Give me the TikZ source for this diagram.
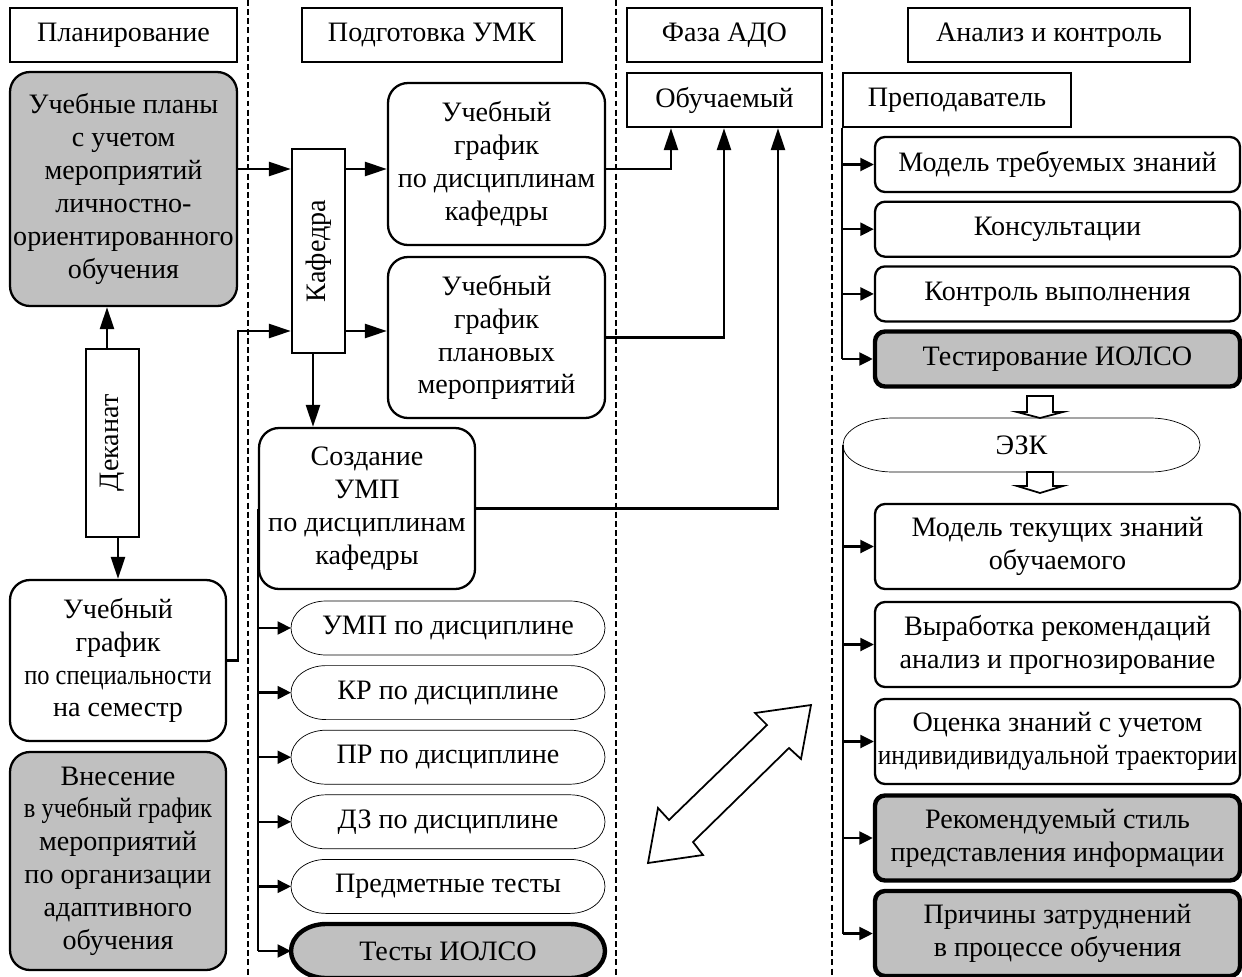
\documentclass[tikz,border=0pt]{standalone}
\usepackage{fontspec}
\setmainfont{Liberation Serif}
\usepackage{graphicx}
\usepackage{xcolor}
\definecolor{grisFill}{HTML}{C0C0C0}
\usetikzlibrary{arrows.meta,positioning,calc,backgrounds}
% outline with elliptic ends round a named node
\newcommand\pillline[3][]{%
 \draw[#1] ([xshift=#3]#2.north west) -- ([xshift=-#3]#2.north east)
 arc[start angle=90,end angle=-90,x radius=#3,y radius=0.54cm]
 -- ([xshift=#3]#2.south west)
 arc[start angle=270,end angle=90,x radius=#3,y radius=0.54cm] -- cycle;}

\begin{document}
\begin{tikzpicture}[
 font=\fontsize{16}{18.7}\selectfont,
 line width=1.3pt,
 hdr/.style={draw,minimum height=1.08cm,inner sep=0pt},
 rbox/.style={draw,rounded corners=0.4cm,align=center,inner sep=0pt,
 minimum width=4.32cm,minimum height=3.22cm},
 rrow/.style={draw,rounded corners=0.2cm,align=center,inner sep=0pt,minimum width=7.3cm},
 pill/.style={inner sep=0pt,outer sep=0pt,minimum width=6.28cm,minimum height=1.08cm},
 shaded/.style={fill=grisFill},
 bold/.style={line width=2.5pt},
 arr/.style={-{Triangle[length=0.44cm,width=0.28cm]}},
 arrs/.style={-{Triangle[length=0.27cm,width=0.26cm]}},
 divider/.style={line width=1pt,dash pattern=on 3.4pt off 1.8pt}]
 \useasboundingbox (0,0) rectangle (24.84,-19.54);

 % headers
 \node[hdr,minimum width=4.54cm] (hplan) at (2.47,-0.70) {Планирование};
 \node[hdr,minimum width=5.2cm] (humk) at (8.64,-0.70) {Подготовка УМК};
 \node[hdr,minimum width=3.9cm] (hado) at (14.49,-0.70) {Фаза АДО};
 \node[hdr,minimum width=5.64cm] (hanal) at (20.98,-0.70) {Анализ и контроль};
 \foreach \x in {4.96,12.32,16.64}
 \draw[divider] (\x,0) -- (\x,-19.54);

 % planning
 \node[rbox,shaded,minimum width=4.54cm,minimum height=4.68cm] (plans) at (2.47,-3.78)
 {Учебные планы\\с учетом\\мероприятий\\личностно-\\ориентированного\\обучения};
 \node[draw,inner sep=0pt,minimum width=1.06cm,minimum height=3.76cm] (dekanat) at (2.25,-8.86) {\rotatebox{90}{Деканат}};
 \node[rbox] (grspec) at (2.36,-13.21) {Учебный\\график\\\scalebox{0.87}[1]{по специальности}\\на семестр};
 \node[rbox,shaded,minimum height=4.36cm] (vnes) at (2.36,-17.22)
 {Внесение\\\scalebox{0.87}[1]{в учебный график}\\мероприятий\\по организации\\адаптивного\\обучения};

 % UMK
 \node[draw,inner sep=0pt,minimum width=1.06cm,minimum height=4.08cm] (kaf) at (6.37,-5.02) {\rotatebox{90}{Кафедра}};
 \node[rbox,minimum width=4.34cm,minimum height=3.24cm] (grdisc) at (9.93,-3.28) {Учебный\\график\\по дисциплинам\\кафедры};
 \node[rbox,minimum width=4.34cm] (grplan) at (9.93,-6.75) {Учебный\\график\\плановых\\мероприятий};
 \node[rbox] (ump) at (7.34,-10.17) {Создание\\УМП\\по дисциплинам\\кафедры};
 \foreach \t [count=\i from 0] in {УМП по дисциплине,КР по дисциплине,ПР по дисциплине,ДЗ по дисциплине,Предметные тесты}
 \node[pill] (p\i) at (8.96,{-12.56-1.292*\i}) {\t};
 \node[pill] (p5) at (8.96,-19.02) {Тесты ИОЛСО};

 % ADO
 \node[hdr,minimum width=3.9cm] (obuch) at (14.49,-2.0) {Обучаемый};

 % analysis
 \node[hdr,minimum width=4.56cm] (prep) at (19.14,-2.0) {Преподаватель};
 \foreach \t [count=\i from 0] in {Модель требуемых знаний,Консультации,Контроль выполнения}
 \node[rrow,minimum height=1.1cm] (r\i) at (21.15,{-3.29-1.294*\i}) {\t};
 \node[rrow,shaded,bold,minimum height=1.1cm] (r3) at (21.15,-7.18) {Тестирование ИОЛСО};
 \node[pill,minimum width=7.14cm] (ezk) at (20.43,-8.9) {ЭЗК};
 \node[rrow,minimum height=1.7cm] (s0) at (21.15,-10.93) {Модель текущих знаний\\обучаемого};
 \node[rrow,minimum height=1.7cm] (s1) at (21.15,-12.89) {Выработка рекомендаций\\анализ и прогнозирование};
 \node[rrow,minimum height=1.7cm] (s2) at (21.15,-14.83) {Оценка знаний с учетом\\\scalebox{0.9}[1]{индивидивидуальной траектории}};
 \node[rrow,shaded,bold,minimum height=1.7cm] (s3) at (21.15,-16.76) {Рекомендуемый стиль\\представления информации};
 \node[rrow,shaded,bold,minimum height=1.7cm] (s4) at (21.15,-18.67) {Причины затруднений\\в процессе обучения};

 \begin{scope}[on background layer]
 \foreach \i in {0,...,4}
 \pillline{p\i}{0.7cm};
 \pillline[shaded,bold]{p5}{0.7cm};
 \pillline{ezk}{1.0cm};
 \end{scope}

 % connectors
 \coordinate (lvlA) at (0,-3.38);
 \coordinate (lvlB) at (0,-6.62);
 \coordinate (inA) at (13.42,0);
 \coordinate (inB) at (14.48,0);
 \coordinate (inC) at (15.56,0);
 \draw[arr] (plans.east |- lvlA) -- (kaf.west |- lvlA);
 \draw[arr] (kaf.east |- lvlA) -- (grdisc.west |- lvlA);
 \draw[arr] (kaf.east |- lvlB) -- (grplan.west |- lvlB);
 \draw[arr] (grspec.east) -- ++(0.22,0) |- (kaf.west |- lvlB);
 \draw[arr] ([xshift=-0.11cm]dekanat.north) -- ([xshift=-0.11cm]dekanat.north |- plans.south);
 \draw[arr] ([xshift=0.11cm]dekanat.south) -- ([xshift=0.11cm]dekanat.south |- grspec.north);
 \draw[arr] ([xshift=-0.11cm]kaf.south) -- ([xshift=-0.11cm]kaf.south |- ump.north);
 \draw[arr] (grdisc.east |- lvlA) -| (inA |- obuch.south);
 \draw[arr] (grplan.east) -| (inB |- obuch.south);
 \draw[arr] (ump.east) -| (inC |- obuch.south);
 \draw (ump.west) -- (ump.west |- p5.west);
 \foreach \i in {0,...,5}
 \draw[arrs] (ump.west |- p\i.west) -- (p\i.west);
 \draw (prep.south west) -- (prep.south west |- r3.west);
 \foreach \i in {0,...,3}
 \draw[arrs] (prep.south west |- r\i.west) -- (r\i.west);
 \draw (ezk.west) -- (ezk.west |- s4.west);
 \foreach \i in {0,...,4}
 \draw[arrs] (ezk.west |- s\i.west) -- (s\i.west);

 % hollow arrows
 \draw[line width=1pt,fill=white] ($(ezk.north)+(0.37,0)$) -- ++(-0.46,0.12) -- ++(0.2,0) -- ++(0,0.32)
 -- ++(0.52,0) -- ++(0,-0.32) -- ++(0.2,0) -- cycle;
 \draw[line width=1pt,fill=white] ($(ezk.south)+(0.37,-0.42)$) -- ++(-0.46,0.14) -- ++(0.2,0) -- ++(0,0.28)
 -- ++(0.52,0) -- ++(0,-0.28) -- ++(0.2,0) -- cycle;
 \draw[line width=1pt,fill=white] (16.22,-14.10) -- (16.02,-15.18) -- (15.78,-14.96) -- (13.86,-16.84)
 -- (14.06,-17.10) -- (12.96,-17.26) -- (13.16,-16.16) -- (13.38,-16.40) -- (15.34,-14.50)
 -- (15.10,-14.26) -- cycle;
\end{tikzpicture}
\end{document}
